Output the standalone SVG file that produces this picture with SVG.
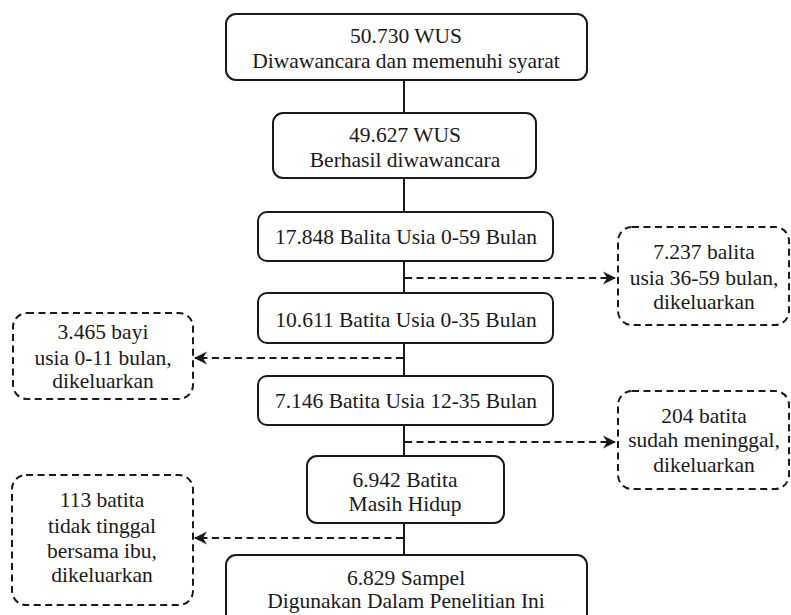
<svg xmlns="http://www.w3.org/2000/svg" width="791" height="615" viewBox="0 0 791 615">
<defs>
<style>
.box{fill:#fff;stroke:#1a1a1a;stroke-width:2}
.dbox{fill:#fff;stroke:#1a1a1a;stroke-width:2;stroke-dasharray:7 4.5}
.ln{fill:none;stroke:#1a1a1a;stroke-width:2}
.dl{fill:none;stroke:#1a1a1a;stroke-width:2;stroke-dasharray:7 4.5}
text{font-family:'Liberation Serif',Tinos,'Times New Roman',Times,'DejaVu Serif',serif;font-size:21.5px;fill:#1a1a1a;text-anchor:middle}
</style>
<marker id="ah" markerUnits="userSpaceOnUse" markerWidth="14" markerHeight="14" refX="12" refY="7" orient="auto">
<path d="M0,0.5 L13,7 L0,13.5 L4,7 z" fill="#1a1a1a"/>
</marker>
</defs>
<rect width="791" height="615" fill="#fff"/>
<g id="connectors">
<line class="ln" x1="404" y1="80" x2="404" y2="113"/>
<line class="ln" x1="404" y1="178" x2="404" y2="212"/>
<line class="ln" x1="404" y1="261" x2="404" y2="293"/>
<line class="ln" x1="404" y1="343" x2="404" y2="376"/>
<line class="ln" x1="404" y1="425" x2="404" y2="456"/>
<line class="ln" x1="404" y1="523" x2="404" y2="555"/>
<line class="dl" x1="405" y1="278" x2="615" y2="278" marker-end="url(#ah)"/>
<line class="dl" x1="403" y1="358" x2="195" y2="358" marker-end="url(#ah)"/>
<line class="dl" x1="405" y1="442" x2="615" y2="442" marker-end="url(#ah)"/>
<line class="dl" x1="403" y1="538" x2="195" y2="538" marker-end="url(#ah)"/>
</g>
<g font-family="Liberation Serif, Times New Roman, serif">
<g id="n1"><rect class="box" x="226" y="14" width="361" height="66" rx="10"/><text x="406" y="43">50.730 WUS</text><text x="406" y="68">Diwawancara dan memenuhi syarat</text></g>
<g id="n2"><rect class="box" x="273" y="113" width="263" height="65" rx="10"/><text x="405" y="142">49.627 WUS</text><text x="405" y="167">Berhasil diwawancara</text></g>
<g id="n3"><rect class="box" x="258" y="212" width="295" height="49" rx="9"/><text x="406" y="244">17.848 Balita Usia 0-59 Bulan</text></g>
<g id="n4"><rect class="box" x="258" y="293" width="295" height="50" rx="9"/><text x="406" y="327">10.611 Batita Usia 0-35 Bulan</text></g>
<g id="n5"><rect class="box" x="258" y="376" width="295" height="49" rx="9"/><text x="406" y="408">7.146 Batita Usia 12-35 Bulan</text></g>
<g id="n6"><rect class="box" x="307" y="456" width="197" height="67" rx="10"/><text x="405" y="487">6.942 Batita</text><text x="405" y="511">Masih Hidup</text></g>
<g id="n7"><rect class="box" x="226" y="555" width="361" height="72" rx="10"/><text x="406" y="585">6.829 Sampel</text><text x="406" y="608">Digunakan Dalam Penelitian Ini</text></g>
<g id="x1"><rect class="dbox" x="618" y="227" width="171" height="98" rx="14"/><text x="704" y="259">7.237 balita</text><text x="704" y="285">usia 36-59 bulan,</text><text x="704" y="309">dikeluarkan</text></g>
<g id="x2"><rect class="dbox" x="13" y="313" width="180" height="86" rx="14"/><text x="103" y="339">3.465 bayi</text><text x="103" y="365">usia 0-11 bulan,</text><text x="103" y="388">dikeluarkan</text></g>
<g id="x3"><rect class="dbox" x="618" y="391" width="171" height="98" rx="14"/><text x="704" y="423">204 batita</text><text x="704" y="447">sudah meninggal,</text><text x="704" y="472">dikeluarkan</text></g>
<g id="x4"><rect class="dbox" x="12" y="475" width="181" height="130" rx="14"/><text x="102" y="507">113 batita</text><text x="102" y="533">tidak tinggal</text><text x="102" y="558">bersama ibu,</text><text x="102" y="582">dikeluarkan</text></g>
</g>
</svg>
